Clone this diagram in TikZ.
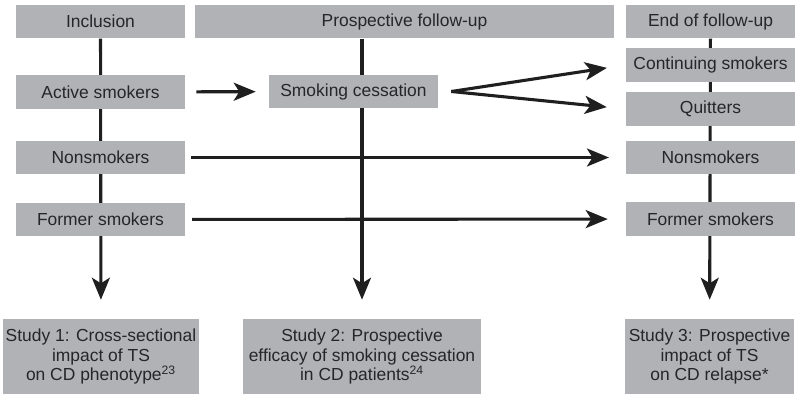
\documentclass[tikz,border=0pt]{standalone}
\usepackage{fontspec}
\setmainfont{Liberation Sans}
\usepackage{xcolor}
\usetikzlibrary{arrows.meta,backgrounds}
\definecolor{boxgray}{RGB}{177,178,181}
\definecolor{textgray}{RGB}{38,38,40}

\begin{document}
\begin{tikzpicture}[
  box/.style={fill=boxgray,text=textgray,align=center,inner sep=0pt,
    minimum width=4.225cm,minimum height=0.84cm,
    font=\fontsize{12.4}{14.2}\selectfont},
  studybox/.style={box,minimum height=1.875cm},
  flow/.style={line width=2.2pt,-{Stealth[length=0.55cm,width=0.45cm,inset=0.14cm]},draw=black!88}]

\useasboundingbox (0,0) rectangle (20,-10);

% stages
\node[box] (StageInclusion) at (2.5125,-0.54) {Inclusion};
\node[box,minimum width=10.475cm] (StageFollowUp) at (10.1125,-0.54) {Prospective follow-up};
\node[box] (StageEnd) at (17.7625,-0.54) {End of follow-up};

% groups at inclusion
\node[box] (GroupActive) at (2.5125,-2.3) {Active smokers};
\node[box] (GroupNon) at (2.5125,-3.9375) {Nonsmokers};
\node[box] (GroupFormer) at (2.5125,-5.4875) {Former smokers};

% follow-up
\node[box] (GroupCessation) at (8.8375,-2.2875) {Smoking cessation};

% groups at end of follow-up
\node[box] (EndContinuing) at (17.7625,-1.625) {Continuing smokers};
\node[box] (EndQuitters) at (17.7625,-2.725) {Quitters};
\node[box] (EndNon) at (17.7625,-3.9375) {Nonsmokers};
\node[box] (EndFormer) at (17.7625,-5.475) {Former smokers};

% studies
\node[studybox,minimum width=4.9cm] (StudyA) at (2.525,-8.9125) {Study 1: Cross-sectional\\impact of TS\\on CD phenotype\textsuperscript{23}};
\node[studybox,minimum width=5.95cm] (StudyB) at (9.05,-8.9125) {Study 2: Prospective\\efficacy of smoking cessation\\in CD patients\textsuperscript{24}};
\node[studybox] (StudyC) at (17.7375,-8.9125) {Study 3: Prospective\\impact of TS\\on CD relapse*};

% vertical time lines, behind the boxes
\begin{pgfonlayer}{background}
\draw[flow,shorten >=0.475cm] (StageInclusion) -- (StudyA);
\draw[flow,shorten >=0.475cm] (StageFollowUp.south -| StudyB.north) -- (StudyB.north);
\draw[flow,shorten >=0.475cm] (StageEnd) -- (StudyC);
\end{pgfonlayer}

% transitions
\coordinate (SplitCessation) at ([xshift=0.325cm]GroupCessation.east);

\draw[flow,shorten <=0.275cm,shorten >=0.325cm] (GroupActive) -- (GroupCessation);
\draw[flow,shorten >=0.475cm] (SplitCessation) -- (EndContinuing.west);
\draw[flow,shorten >=0.475cm] (SplitCessation) -- (EndQuitters.west);
\draw[flow,shorten <=0.14cm,shorten >=0.42cm] (GroupNon) -- (EndNon);
\draw[flow,shorten <=0.17cm,shorten >=0.45cm] (GroupFormer) -- (EndFormer);

\end{tikzpicture}
\end{document}
